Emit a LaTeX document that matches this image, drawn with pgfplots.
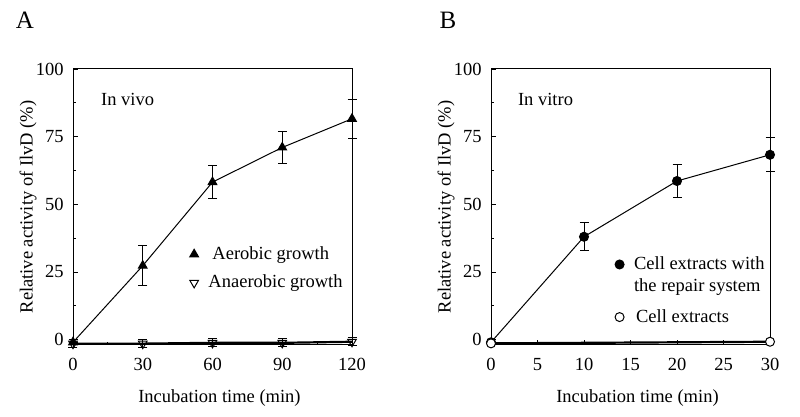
\documentclass[border=0pt]{standalone}
\usepackage{pgfplots}
\pgfplotsset{compat=1.18}
\usepackage{fontspec}
\setmainfont{Liberation Serif}
\begin{document}
\fontsize{18.5}{22}\selectfont
\begin{tikzpicture}[font=\fontsize{18.5}{22}\selectfont]
\path (0pt,0pt) rectangle (800pt,417pt);
\pgfplotsset{
  common/.style={
    scale only axis, width=279pt, height=276pt,
    ymin=-2, ymax=100, ytick={0,25,50,75,100}, minor y tick num=1,
    tick align=inside, xtick pos=bottom, ytick pos=left,
    major tick length=5pt, minor tick length=3pt,
    axis line style={line width=1pt},
    every tick/.style={black, line width=0.8pt},
    font=\fontsize{18.5}{22}\selectfont,
    tick label style={font=\fontsize{18.5}{22}\selectfont},
    label style={font=\fontsize{18.5}{22}\selectfont},
    /pgf/number format/assume math mode=true,
    clip=false,
    ylabel={Relative activity of IlvD (\%)},
    xlabel={Incubation time (min)},
    ylabel style={at={(axis description cs:-0.1605,0.5)}, anchor=center, rotate=0},
    xlabel style={at={(axis description cs:0.525,-0.192)}, anchor=center},
    every x tick label/.append style={yshift=-7pt},
    every y tick label/.append style={xshift=-3pt},
    legend cell align=left,
    legend style={draw=none, fill=none, inner sep=0pt, row sep=8pt,
      font=\fontsize{18.5}{21}\selectfont, cells={align=left}},
    legend image post style={only marks},
  },
}
\begin{axis}[common, at={(73pt,72pt)}, anchor=south west,
  xmin=0, xmax=120, xtick={0,30,60,90,120}, minor x tick num=1,
  legend style={at={(0.418,0.365)}, anchor=north west, row sep=9pt}]
\addplot[black, line width=1pt, mark=triangle*, mark size=5pt,
  error bars/.cd, y dir=both, y explicit,
  error bar style={line width=1pt},
  error mark options={rotate=90, mark size=4.5pt, line width=1pt}]
  table[x=x, y=y, y error=e] {
x y e
0 -1 0
30 27.3 7.3
60 58.2 6
90 71 6
120 81.6 7.3
};
\addlegendentry{\hspace{12pt}Aerobic growth}
\addplot[black, line width=2.2pt, mark=triangle, mark size=5pt,
  mark options={rotate=180, fill=white, line width=1pt},
  error bars/.cd, y dir=both, y explicit,
  error bar style={line width=1pt},
  error mark options={rotate=90, mark size=4.5pt, line width=1pt}]
  table[x=x, y=y, y error=e] {
x y e
0 -1.5 1.5
30 -1.5 1.5
60 -1.2 1.5
90 -1.2 1.5
120 -0.8 1.5
};
\addlegendentry{\hspace{8pt}Anaerobic growth}
\node[anchor=west] at (axis description cs:0.078,0.891) {In vivo};
\end{axis}
\begin{axis}[common, at={(491pt,72pt)}, anchor=south west,
  xmin=0, xmax=30, xtick={0,5,10,15,20,25,30},
  legend style={at={(0.444,0.328)}, anchor=north west, row sep=11pt}]
\addplot[black, line width=1pt, mark=*, mark size=4.5pt,
  legend image post style={only marks, yshift=11pt},
  error bars/.cd, y dir=both, y explicit,
  error bar style={line width=1pt},
  error mark options={rotate=90, mark size=4.5pt, line width=1pt}]
  table[x=x, y=y, y error=e] {
x y e
0 -1 0
10 38 5.2
20 58.6 6.2
30 68.3 6.3
};
\addlegendentry{\hspace{8pt}Cell extracts with\\[1pt]\hspace{8pt}the repair system}
\addplot[black, line width=2.2pt, mark=*, mark size=4.5pt,
  mark options={fill=white, line width=1pt}]
  table[x=x, y=y] {
x y
0 -1.4
30 -0.8
};
\addlegendentry{\hspace{10pt}Cell extracts}
\node[anchor=west] at (axis description cs:0.074,0.891) {In vitro};
\end{axis}
\node[font=\fontsize{25}{28}\selectfont] at (25pt,397pt) {A};
\node[font=\fontsize{25}{28}\selectfont] at (448pt,397pt) {B};
\end{tikzpicture}
\end{document}
